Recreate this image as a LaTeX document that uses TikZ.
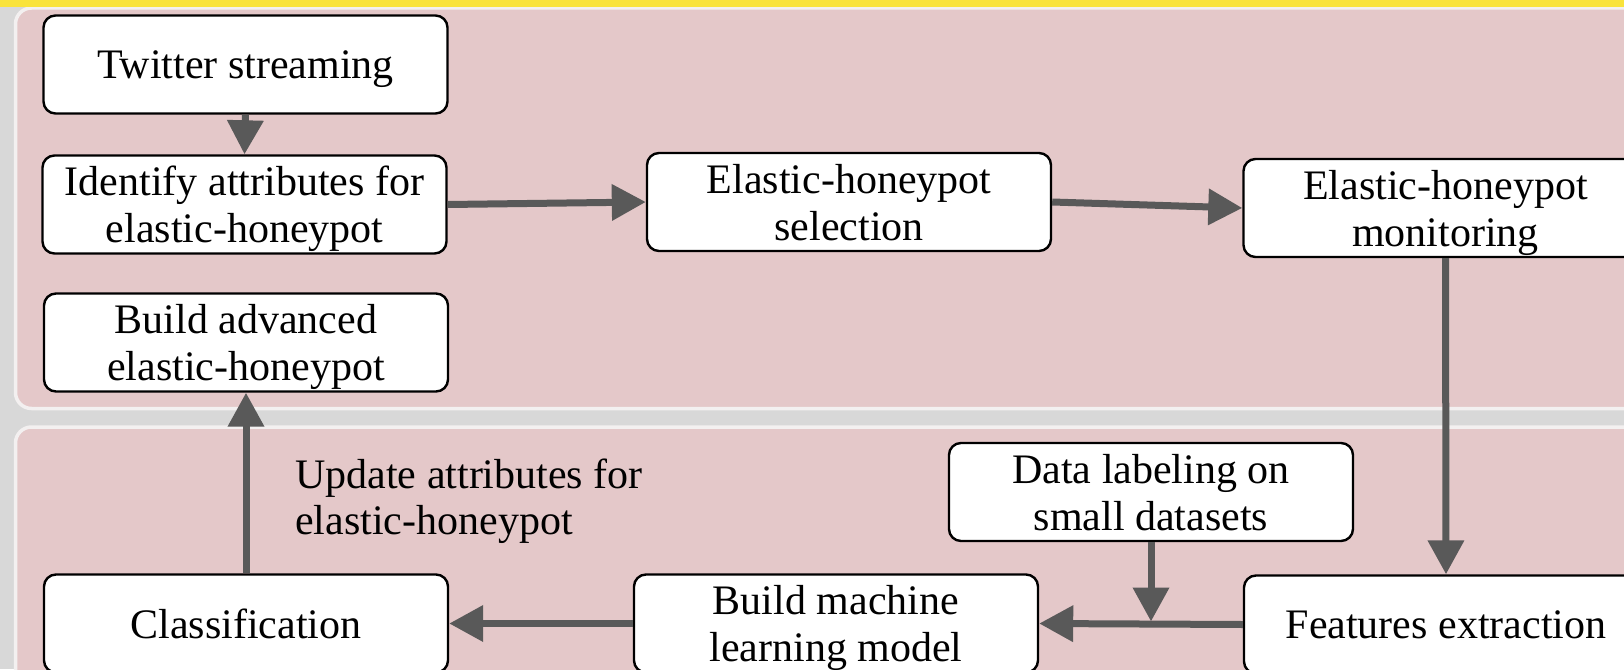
\documentclass[tikz,border=0pt]{standalone}
\usepackage{fontspec}
\setmainfont{Liberation Serif}
\usetikzlibrary{arrows.meta}
\definecolor{bggray}{HTML}{D8D8D8}
\definecolor{panelpink}{HTML}{E4C8C9}
\definecolor{panelrim}{HTML}{F3F0F0}
\definecolor{topyellow}{HTML}{F9E33B}
\definecolor{arrowgray}{HTML}{595959}
\tikzset{
  panel/.style={fill=panelpink, draw=panelrim, line width=3.5pt, rounded corners=16pt},
  stepbox/.style={draw=black, line width=2.4pt, fill=white, rounded corners=12pt,
    minimum width=404pt, minimum height=98pt, inner sep=0pt, align=center,
    text depth=0pt, font=\fontsize{42}{47}\selectfont},
  plainlabel/.style={inner sep=0pt, align=left, font=\fontsize{42}{46}\selectfont},
  arr/.style={draw=arrowgray, line width=7pt, -{Triangle[width=35pt,length=34pt]}}
}
\begin{document}
\begin{tikzpicture}[x=1pt,y=-1pt]
\useasboundingbox (0,0) rectangle (1624,669);
\clip (0,0) rectangle (1624,669);
\fill[bggray] (0,0) rectangle (1624,669);
% panels
\path[panel] (15.5,8) rectangle (1720,408.5);
\path[panel] (15.5,427) rectangle (1720,820);
\fill[topyellow] (0,0) rectangle (1624,7);
% nodes
\node[stepbox] (tw)  at (245.5,64.5) {Twitter streaming};
\node[stepbox] (id)  at (244.5,204.5) {Identify attributes for\\elastic-honeypot};
\node[stepbox] (ba)  at (246,342.5) {Build advanced\\elastic-honeypot};
\node[stepbox] (sel) at (849,202) {Elastic-honeypot\\selection};
\node[stepbox] (mon) at (1445.5,208) {Elastic-honeypot\\monitoring};
\node[stepbox] (dl)  at (1151,492) {Data labeling on\\small datasets};
\node[stepbox] (cl)  at (246,623.5) {Classification};
\node[stepbox] (ml)  at (836,623.5) {Build machine\\learning model};
\node[stepbox] (fe)  at (1446,624.5) {Features extraction};
\node[plainlabel, anchor=north west] (upd) at (295,459) {Update attributes for\\elastic-honeypot};
% connectors
\draw[arr] (tw.south) -- (id.north);
\draw[arr] (id.east) -- (sel.west);
\draw[arr] (sel.east) -- (mon.west);
\draw[arr] (mon.south) -- (fe.north);
\draw[arr] (fe.west) -- (ml.east);
\path (dl.south |- fe.west) coordinate (jn);
\draw[arr] (dl.south) -- ([yshift=3pt]jn);
\draw[arr] (ml.west) -- (cl.east);
\draw[arr] (cl.north) -- (ba.south);
\end{tikzpicture}
\end{document}
